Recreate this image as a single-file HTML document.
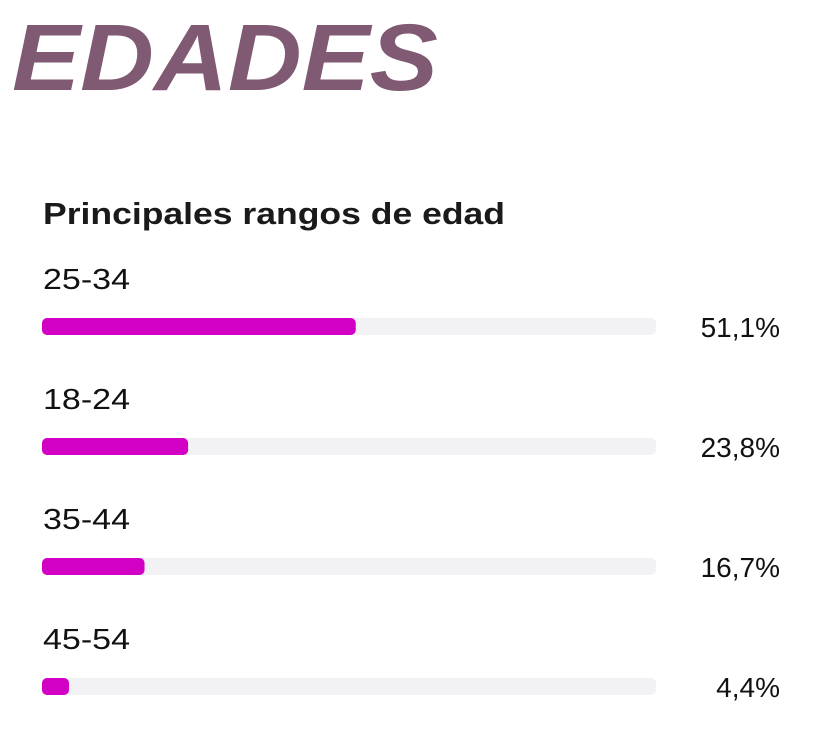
<!DOCTYPE html>
<html><head><meta charset="utf-8"><style>
html,body{margin:0;padding:0;background:#fff;}
svg{display:block;font-family:"Liberation Sans",sans-serif;}
</style></head><body>
<svg id="chart" width="828" height="730" viewBox="0 0 828 730">
<text x="12" y="90" font-size="95" font-weight="bold" font-style="italic" fill="#7f5a72" textLength="426" lengthAdjust="spacingAndGlyphs">EDADES</text>
<text x="43" y="224" font-size="31" font-weight="bold" fill="#1a1a1a" textLength="462" lengthAdjust="spacingAndGlyphs">Principales rangos de edad</text>
<g id="bars"></g>
</svg>
<script>
const categories = ["25-34","18-24","35-44","45-54"];
const values = [51.1,23.8,16.7,4.4];
const valueLabels = ["51,1%","23,8%","16,7%","4,4%"];
const trackX = 42, trackW = 614, rowStart = 318, rowStep = 120, barH = 17;
function xScale(v){ return trackW * v / 100; }
function rowY(i){ return rowStart + i * rowStep; }
const g = document.getElementById('bars');
const ns = 'http://www.w3.org/2000/svg';
categories.forEach((c,i)=>{
  const y = rowY(i);
  const lab = document.createElementNS(ns,'text');
  
  
  lab.setAttribute('x', 43); lab.setAttribute('y', y - 29);
  lab.setAttribute('font-size', 29); lab.setAttribute('fill', '#111');
  lab.setAttribute('textLength', 87); lab.setAttribute('lengthAdjust', 'spacingAndGlyphs');
  lab.textContent = c; g.appendChild(lab);
  const tr = document.createElementNS(ns,'rect');
  
  
  tr.setAttribute('x', trackX); tr.setAttribute('y', y);
  tr.setAttribute('width', trackW); tr.setAttribute('height', barH);
  tr.setAttribute('rx', 5); tr.setAttribute('fill', '#f2f2f4');
  g.appendChild(tr);
  const b = document.createElementNS(ns,'rect');
  
  
  b.setAttribute('x', trackX); b.setAttribute('y', y);
  b.setAttribute('width', xScale(values[i])); b.setAttribute('height', barH);
  b.setAttribute('rx', 5); b.setAttribute('fill', '#d200c4');
  g.appendChild(b);
  const v = document.createElementNS(ns,'text');
  
  
  v.setAttribute('x', 780); v.setAttribute('y', y + 19);
  v.setAttribute('text-anchor', 'end');
  v.setAttribute('font-size', 28); v.setAttribute('fill', '#111');
  v.textContent = valueLabels[i]; g.appendChild(v);
});
</script>
</body></html>
